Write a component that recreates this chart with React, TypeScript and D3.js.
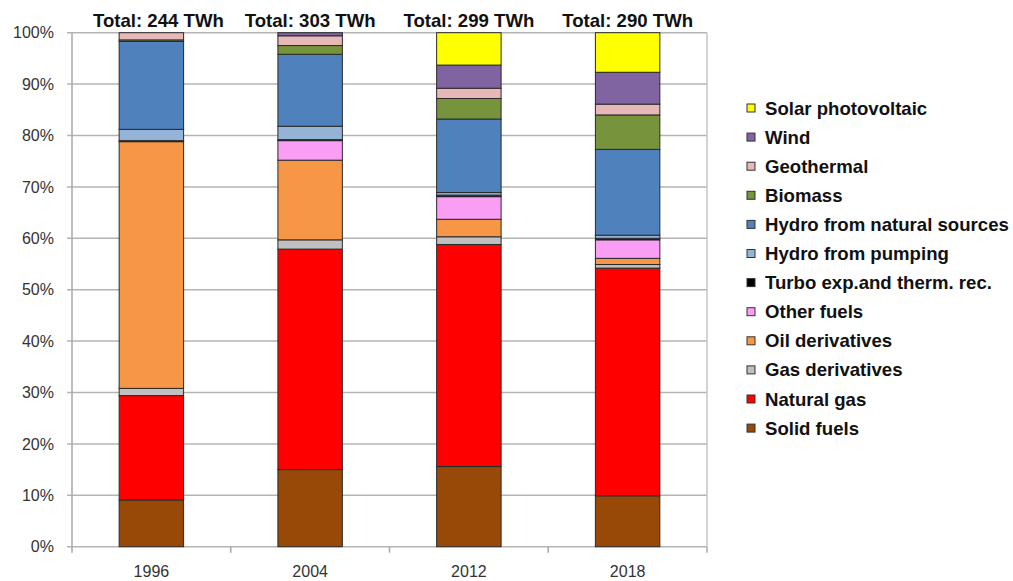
import React from "react";
import * as d3 from "d3";

// Years shown on the category axis
const years = ["1996", "2004", "2012", "2018"];
const totals = ["Total: 244 TWh", "Total: 303 TWh", "Total: 299 TWh", "Total: 290 TWh"];

// Share of gross production (%) per source, one entry per year
const solidFuels = [9.1, 15.0, 15.6, 9.9];
const naturalGas = [20.3, 42.9, 43.2, 44.3];
const gasDerivatives = [1.4, 1.8, 1.5, 0.7];
const oilDerivatives = [48.0, 15.5, 3.4, 1.2];
const otherFuels = [0.0, 3.8, 4.4, 3.6];
const turboExp = [0.2, 0.2, 0.3, 0.3];
const hydroPumping = [2.2, 2.6, 0.5, 0.6];
const hydroNatural = [17.1, 14.0, 14.3, 16.7];
const biomass = [0.3, 1.7, 4.0, 6.7];
const geothermal = [1.4, 1.9, 2.0, 2.1];
const wind = [0.0, 0.6, 4.5, 6.2];
const solarPV = [0.0, 0.0, 6.3, 7.7];

const yTicks = [0, 10, 20, 30, 40, 50, 60, 70, 80, 90, 100];

// Stack order, bottom to top
const series = [
  { name: "Solid fuels", values: solidFuels, color: "#984807" },
  { name: "Natural gas", values: naturalGas, color: "#FF0000" },
  { name: "Gas derivatives", values: gasDerivatives, color: "#C0C0C0" },
  { name: "Oil derivatives", values: oilDerivatives, color: "#F79646" },
  { name: "Other fuels", values: otherFuels, color: "#FA9EF5" },
  { name: "Turbo exp.and therm. rec.", values: turboExp, color: "#000000" },
  { name: "Hydro from pumping", values: hydroPumping, color: "#95B3D7" },
  { name: "Hydro from natural sources", values: hydroNatural, color: "#4F81BD" },
  { name: "Biomass", values: biomass, color: "#77933C" },
  { name: "Geothermal", values: geothermal, color: "#E6B9B8" },
  { name: "Wind", values: wind, color: "#8064A2" },
  { name: "Solar photovoltaic", values: solarPV, color: "#FFFF00" },
];

export default function App() {
  const width = 1013;
  const height = 581;
  const left = 72;
  const right = 707;
  const top = 32.7;
  const bottom = 546.7;

  const x = d3
    .scaleBand<string>()
    .domain(years)
    .range([left, right])
    .paddingInner(0.594)
    .paddingOuter(0.297);
  const y = d3.scaleLinear().domain([0, 100]).range([bottom, top]);

  const rows = years.map((yr, i) => {
    const r: Record<string, number | string> = { year: yr };
    series.forEach((s) => (r[s.name] = s.values[i]));
    return r;
  });
  const stacked = d3.stack<any>().keys(series.map((s) => s.name))(rows);

  const step = x.step();
  const boundaries = d3.range(years.length + 1).map((i) => left + i * step);

  const legendItems = [...series].reverse();
  const font = "'Liberation Sans', Arial, sans-serif";

  return (
    <div style={{ position: "absolute", left: 0, top: 0 }}>
      <svg width={width} height={height} style={{ display: "block", background: "#fff" }}>
        {/* horizontal gridlines */}
        {yTicks.map((t) => (
          <line
            key={"g" + t}
            x1={left - 5}
            x2={right}
            y1={y(t)}
            y2={y(t)}
            stroke="#b4b4b4"
            strokeWidth={1.5}
          />
        ))}
        {/* plot borders */}
        <line x1={left} x2={left} y1={top} y2={bottom} stroke="#a8a8a8" strokeWidth={1.5} />
        <line x1={right} x2={right} y1={top} y2={bottom} stroke="#c4c4c4" strokeWidth={1.5} />
        {boundaries.map((bx, i) => (
          <line key={"t" + i} x1={bx} x2={bx} y1={bottom} y2={bottom + 6} stroke="#a8a8a8" strokeWidth={1.5} />
        ))}
        {/* y tick labels */}
        {yTicks.map((t) => (
          <text
            key={"yl" + t}
            x={54}
            y={y(t)}
            dy="0.36em"
            textAnchor="end"
            fontFamily={font}
            fontSize={16}
            fill="#333"
          >
            {t}%
          </text>
        ))}
        {/* stacked bars */}
        {stacked.map((layer, li) => (
          <g key={layer.key} fill={series[li].color}>
            {layer.map((d, i) =>
              d[1] - d[0] > 0 ? (
                <rect
                  key={i}
                  x={x(years[i])}
                  y={y(d[1])}
                  width={x.bandwidth()}
                  height={y(d[0]) - y(d[1])}
                  stroke="#2a2a2a"
                  strokeWidth={1}
                />
              ) : null
            )}
          </g>
        ))}
        {/* category labels */}
        {years.map((yr) => (
          <text
            key={"xl" + yr}
            x={(x(yr) as number) + x.bandwidth() / 2}
            y={577}
            textAnchor="middle"
            fontFamily={font}
            fontSize={16}
            fill="#333"
          >
            {yr}
          </text>
        ))}
        {/* totals above bars */}
        {years.map((yr, i) => (
          <text
            key={"tot" + yr}
            x={(x(yr) as number) + x.bandwidth() / 2 + (i === 0 ? 7 : 0)}
            y={27}
            textAnchor="middle"
            fontFamily={font}
            fontWeight="bold"
            fontSize={18.6}
            fill="#111"
          >
            {totals[i]}
          </text>
        ))}
        {/* legend */}
        {legendItems.map((s, i) => {
          const cy = 108 + i * 29.1;
          return (
            <g key={"lg" + s.name}>
              <rect x={747} y={cy - 4} width={8} height={8} fill={s.color} stroke="#333" strokeWidth={1} />
              <text
                x={765}
                y={cy}
                dy="0.35em"
                fontFamily={font}
                fontWeight="bold"
                fontSize={18.6}
                fill="#111"
              >
                {s.name}
              </text>
            </g>
          );
        })}
      </svg>
    </div>
  );
}
